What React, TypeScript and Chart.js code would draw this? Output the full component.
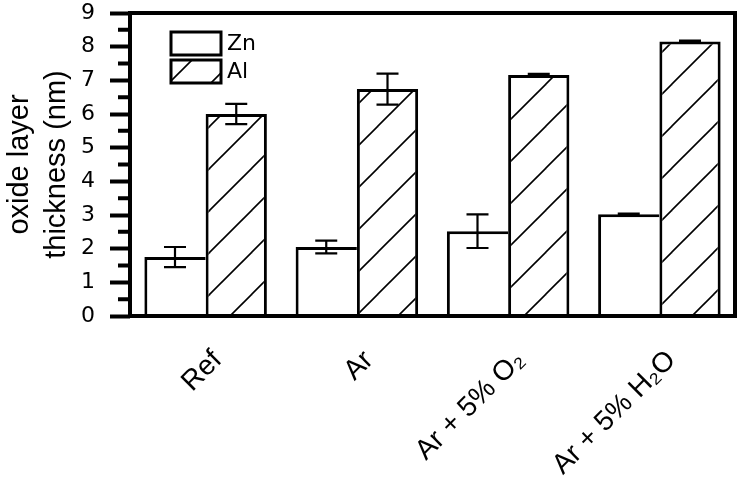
import React, { useEffect, useRef } from 'react';
import { Chart, registerables } from 'chart.js';

Chart.register(...registerables);

const categories = ['Ref', 'Ar', 'Ar + 5% O₂', 'Ar + 5% H₂O'];
const znValues = [1.75, 2.05, 2.52, 3.02];
const znErrors = [0.3, 0.19, 0.5, 0.02];
const alValues = [6.0, 6.74, 7.16, 8.15];
const alErrors = [0.3, 0.46, 0.03, 0.03];
const seriesNames = ['Zn', 'Al'];
const yMin = 0;
const yMax = 9;
const minorTickValues = [0.5, 1.5, 2.5, 3.5, 4.5, 5.5, 6.5, 7.5, 8.5];
const yTitle = ['oxide layer', 'thickness (nm)'];

const FONT = '"Liberation Sans", Arial, Helvetica, sans-serif';
const WIDE = '"DejaVu Sans", "Liberation Sans", Arial, sans-serif';

function makeHatch(): CanvasPattern | string {
  const s = 42;
  const c = document.createElement('canvas');
  c.width = s;
  c.height = s;
  const g = c.getContext('2d');
  if (!g) return '#fff';
  g.fillStyle = '#fff';
  g.fillRect(0, 0, s, s);
  g.strokeStyle = '#000';
  g.lineWidth = 1.6;
  for (const k of [0, s, 2 * s]) {
    g.beginPath();
    g.moveTo(-10, k + 10);
    g.lineTo(k + 10, -10);
    g.stroke();
  }
  const p = g.createPattern(c, 'repeat');
  return p || '#fff';
}

export default function App() {
  const ref = useRef<HTMLCanvasElement>(null);

  useEffect(() => {
    const canvas = ref.current;
    if (!canvas) return;
    const hatch = makeHatch();
    const errorSets = [znErrors, alErrors];

    const errorBars = {
      id: 'errorBars',
      afterDatasetsDraw(chart: any) {
        const ctx = chart.ctx;
        const y = chart.scales.y;
        ctx.save();
        ctx.strokeStyle = '#000';
        ctx.lineWidth = 2.2;
        chart.data.datasets.forEach((ds: any, d: number) => {
          const meta = chart.getDatasetMeta(d);
          meta.data.forEach((bar: any, i: number) => {
            const v = ds.data[i];
            const e = errorSets[d][i];
            const x = bar.x;
            const yt = y.getPixelForValue(v + e);
            const yb = y.getPixelForValue(v - e);
            const half = 11;
            ctx.beginPath();
            ctx.moveTo(x, yt);
            ctx.lineTo(x, yb);
            ctx.moveTo(x - half, yt);
            ctx.lineTo(x + half, yt);
            ctx.moveTo(x - half, yb);
            ctx.lineTo(x + half, yb);
            ctx.stroke();
          });
        });
        ctx.restore();
      },
    };

    const frame = {
      id: 'frame',
      afterDatasetsDraw(chart: any) {
        const ctx = chart.ctx;
        const a = chart.chartArea;
        const y = chart.scales.y;
        ctx.save();
        ctx.strokeStyle = '#000';
        ctx.lineWidth = 4;
        ctx.strokeRect(a.left, a.top, a.right - a.left, a.bottom - a.top);
        ctx.beginPath();
        minorTickValues.forEach((v) => {
          const py = y.getPixelForValue(v);
          ctx.moveTo(a.left - 12, py);
          ctx.lineTo(a.left, py);
        });
        ctx.stroke();
        ctx.restore();
      },
    };

    const legendBox = {
      id: 'legendBox',
      afterDraw(chart: any) {
        const ctx = chart.ctx;
        const a = chart.chartArea;
        const bx = a.left + 41;
        const by = a.top + 19;
        const bw = 50;
        const bh = 23;
        const step = 28;
        ctx.save();
        chart.data.datasets.forEach((ds: any, i: number) => {
          const y = by + i * step;
          ctx.fillStyle = ds.backgroundColor;
          ctx.fillRect(bx, y, bw, bh);
          ctx.strokeStyle = '#000';
          ctx.lineWidth = 3;
          ctx.strokeRect(bx, y, bw, bh);
          ctx.fillStyle = '#000';
          ctx.font = `22px ${WIDE}`;
          ctx.textAlign = 'left';
          ctx.textBaseline = 'middle';
          ctx.fillText(seriesNames[i], bx + bw + 6, y + bh / 2 + 1);
        });
        ctx.restore();
      },
    };

    const chart = new Chart(canvas, {
      type: 'bar',
      data: {
        labels: categories,
        datasets: [
          {
            label: seriesNames[0],
            data: znValues,
            backgroundColor: '#fff',
            borderColor: '#000',
            borderWidth: { top: 3, left: 3, right: 0, bottom: 0 },
          },
          {
            label: seriesNames[1],
            data: alValues,
            backgroundColor: hatch as any,
            borderColor: '#000',
            borderWidth: { top: 3, left: 3, right: 3, bottom: 0 },
          },
        ],
      },
      options: {
        animation: false,
        responsive: true,
        maintainAspectRatio: false,
        datasets: {
          bar: { categoryPercentage: 0.81, barPercentage: 1 },
        } as any,
        layout: { padding: { top: 13, right: 7, left: 0, bottom: 0 } },
        plugins: {
          tooltip: { enabled: false },
          legend: { display: false },
        },
        scales: {
          x: {
            offset: true,
            grid: { display: false, drawTicks: false },
            border: { display: false },
            ticks: {
              minRotation: 45,
              maxRotation: 45,
              autoSkip: false,
              color: '#000',
              font: { size: 28, family: FONT },
              padding: 28,
              labelOffset: 12,
            },
            afterFit(s: any) {
              s.height = 170;
              s.paddingLeft = 0;
              s.paddingRight = 0;
            },
          },
          y: {
            min: yMin,
            max: yMax,
            ticks: {
              stepSize: 1,
              color: '#000',
              font: { size: 22, family: WIDE },
              padding: 15,
            },
            grid: {
              drawOnChartArea: false,
              drawTicks: true,
              tickLength: 20,
              tickWidth: 4,
              tickColor: '#000',
            },
            border: { display: false },
            title: {
              display: true,
              text: yTitle,
              color: '#000',
              font: { size: 29, family: FONT, lineHeight: 1.29 },
              padding: { top: 1, bottom: 0 },
            },
            afterFit(s: any) {
              s.width = 130;
              s.paddingTop = 0;
              s.paddingBottom = 0;
            },
          },
        },
      },
      plugins: [errorBars, frame, legendBox],
    });
    return () => chart.destroy();
  }, []);

  return (
    <div style={{ position: 'fixed', left: 0, top: 0, width: 742, height: 486, background: '#fff' }}>
      <canvas ref={ref} />
    </div>
  );
}
